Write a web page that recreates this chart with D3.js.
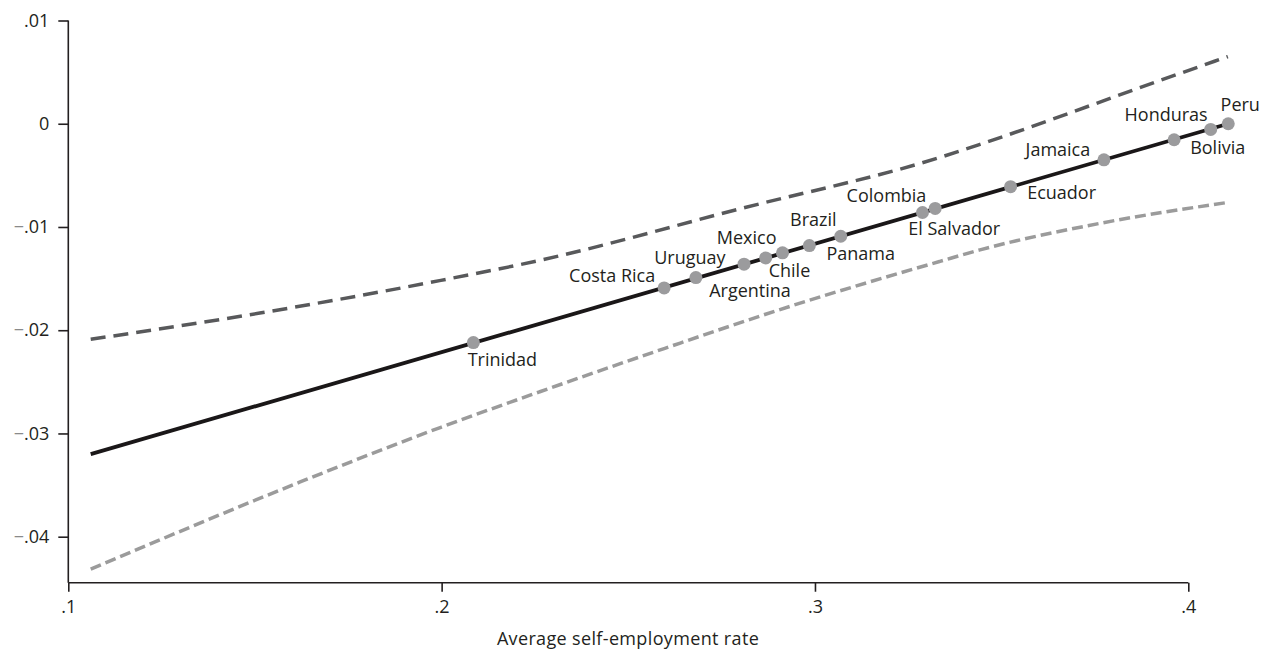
<!DOCTYPE html>
<html>
<head>
<meta charset="utf-8">
<script src="https://cdn.jsdelivr.net/npm/d3@7"></script>
<style>
  html, body { margin: 0; padding: 0; background: #fff; }
  svg { display: block; }
  text { font-family: "Open Sans", "Noto Sans", sans-serif; }
</style>
</head>
<body>
<script>
// ---- data ----
const countries = ["Trinidad","Costa Rica","Uruguay","Argentina","Mexico","Chile","Brazil","Panama","Colombia","El Salvador","Ecuador","Jamaica","Honduras","Bolivia","Peru"];
const selfEmployment = [0.2085,0.2596,0.2681,0.2810,0.2868,0.2913,0.2985,0.3069,0.3288,0.3322,0.3524,0.3774,0.3962,0.4060,0.4107];
const effect = [-0.0212,-0.0159,-0.0149,-0.0136,-0.0130,-0.0125,-0.0118,-0.0109,-0.0086,-0.0082,-0.0061,-0.0035,-0.00155,-0.00055,0.0];

const fitX = [0.106, 0.4107];
const fitY = [-0.0320, 0.0];

const upperX = [0.1060,0.1513,0.1998,0.2263,0.2799,0.3335,0.3442,0.3924,0.4106];
const upperY = [-0.02088,-0.01834,-0.01517,-0.01323,-0.00824,-0.00326,-0.00200,0.00419,0.00651];

const lowerX = [0.1060,0.1621,0.1998,0.2263,0.2598,0.2933,0.3335,0.3442,0.3763,0.4106];
const lowerY = [-0.04315,-0.03470,-0.02940,-0.02596,-0.02175,-0.01769,-0.01333,-0.01222,-0.00965,-0.00762];

const xTicks = [0.1,0.2,0.3,0.4];
const xTickLabels = [".1",".2",".3",".4"];
const yTicks = [0.01,0,-0.01,-0.02,-0.03,-0.04];
const yTickLabels = [".01","0","\u2212.01","\u2212.02","\u2212.03","\u2212.04"];
const xTitle = "Average self-employment rate";

// ---- layout (label offsets, px) ----
const labelOffsets = {
  "Trinidad":[29,23], "Costa Rica":[-52,-6], "Uruguay":[-6,-14], "Argentina":[6,33],
  "Mexico":[-19,-14], "Chile":[7,24], "Brazil":[4,-20], "Panama":[20,24],
  "Colombia":[-36,-11], "El Salvador":[19,27], "Ecuador":[51,12], "Jamaica":[-46,-4],
  "Honduras":[-8,-19], "Bolivia":[7,25], "Peru":[12,-13]
};

const W = 1262, H = 649;
const svg = d3.select("body").append("svg").attr("width", W).attr("height", H);

const x = d3.scaleLinear().domain([0.1, 0.4]).range([68.3, 1188.3]);
const y = d3.scaleLinear().domain([-0.04, 0.01]).range([536.7, 20.5]);
const yBottom = -0.04446;
const FS = 18;

// axes
const axisColor = "#231f20";
const xAxis = d3.axisBottom(x).tickValues(xTicks).tickFormat((d,i)=>xTickLabels[i]).tickSizeOuter(0).tickSize(9).tickPadding(8);
const gx = svg.append("g").attr("transform", `translate(0,${y(yBottom)})`).call(xAxis);
const yAxis = d3.axisLeft(y).tickValues(yTicks).tickFormat((d,i)=>yTickLabels[i]).tickSizeOuter(0).tickSize(10).tickPadding(9);
const gy = svg.append("g").attr("transform", `translate(${x(0.1)},0)`).call(yAxis);
gy.select(".domain").attr("d", `M0,${y(0.01)}V${y(yBottom)}`);
gx.select(".domain").attr("d", `M${x(0.1)},0H${x(0.4)}`);
[gx, gy].forEach(g => {
  g.selectAll(".domain, .tick line").attr("stroke", axisColor).attr("stroke-width", 1.6);
  g.selectAll("text").attr("fill", "#231f20").attr("font-size", FS).attr("font-family", "'Open Sans', sans-serif");
});
gy.selectAll(".tick text").each(function(d,i){
  const t = d3.select(this); const s = yTickLabels[i];
  if (s.startsWith("\u2212")) {
    t.text(null);
    t.append("tspan").attr("fill", "#8a8a8a").text("\u2212");
    t.append("tspan").text(s.slice(1));
  }
});
gx.selectAll(".tick text").attr("dy", "0.71em");

svg.append("text").attr("x", 628).attr("y", 645).attr("text-anchor", "middle")
  .attr("font-size", FS).attr("letter-spacing", 0.35).attr("fill", "#231f20").text(xTitle);

// bands
const line = d3.line().x(d=>x(d[0])).y(d=>y(d[1])).curve(d3.curveMonotoneX);
svg.append("path").datum(lowerX.map((v,i)=>[v, lowerY[i]])).attr("d", line)
  .attr("fill", "none").attr("stroke", "#9b9b9b").attr("stroke-width", 3.5).attr("stroke-dasharray", "11,5");
svg.append("path").datum(upperX.map((v,i)=>[v, upperY[i]])).attr("d", line)
  .attr("fill", "none").attr("stroke", "#58595b").attr("stroke-width", 3.5).attr("stroke-dasharray", "15,8");

// fitted line
svg.append("path").datum(fitX.map((v,i)=>[v, fitY[i]])).attr("d", d3.line().x(d=>x(d[0])).y(d=>y(d[1])))
  .attr("fill", "none").attr("stroke", "#1a1718").attr("stroke-width", 3.8);

// points
const pts = countries.map((c,i)=>({c, x: selfEmployment[i], y: effect[i]}));
svg.append("g").selectAll("circle").data(pts).join("circle")
  .attr("cx", d=>x(d.x)).attr("cy", d=>y(d.y)).attr("r", 6.5).attr("fill", "#9b9b9d");

svg.append("g").selectAll("text").data(pts).join("text")
  .attr("x", d=>x(d.x) + labelOffsets[d.c][0])
  .attr("y", d=>y(d.y) + labelOffsets[d.c][1])
  .attr("text-anchor", "middle").attr("font-size", FS).attr("fill", "#231f20")
  .text(d=>d.c);
</script>
</body>
</html>
